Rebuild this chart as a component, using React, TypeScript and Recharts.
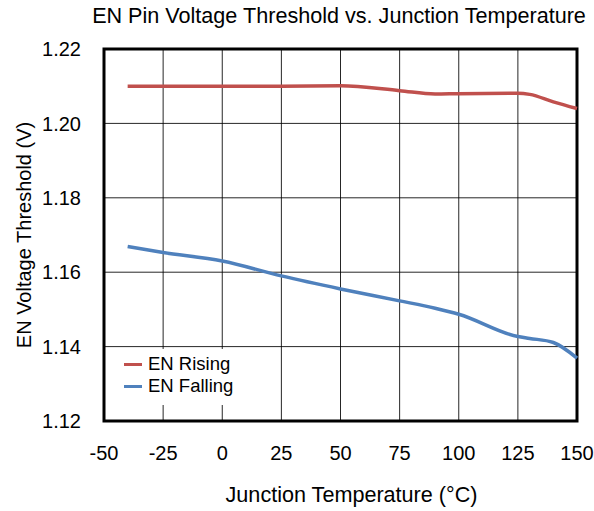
import { CartesianGrid, Label, Legend, Line, LineChart, ReferenceArea, XAxis, YAxis } from "recharts"

const temps = [-40, -25, 0, 25, 50, 75, 90, 100, 125, 130, 140, 150]
const enRising = [1.21, 1.21, 1.21, 1.21, 1.2101, 1.2088, 1.2079, 1.208, 1.2081, 1.2078, 1.2058, 1.204]
const enFalling = [1.1669, 1.1653, 1.163, 1.159, 1.1555, 1.1523, 1.1503, 1.1487, 1.1427, 1.1422, 1.1411, 1.1369]
const xTicks = [-50, -25, 0, 25, 50, 75, 100, 125, 150]
const yTicks = [1.12, 1.14, 1.16, 1.18, 1.2, 1.22]

const RED = "#C0504D"
const BLUE = "#4F81BD"
const FONT = "'Liberation Sans', Arial, sans-serif"

const data = temps.map((t, i) => ({ t, rising: enRising[i], falling: enFalling[i] }))

const legendItems = [
  { name: "EN Rising", color: RED },
  { name: "EN Falling", color: BLUE },
]

function LegendBox() {
  return (
    <div style={{ background: "#fff", padding: "4px 0 0 18px", height: 56, boxSizing: "border-box", fontFamily: FONT, fontSize: 18.5, color: "#000", textAlign: "left" }}>
      {legendItems.map((item) => (
        <div key={item.name} style={{ display: "flex", alignItems: "center", height: 22 }}>
          <span style={{ display: "inline-block", width: 18, height: 3, background: item.color, marginRight: 6 }} />
          {item.name}
        </div>
      ))}
    </div>
  )
}

export default function App() {
  return (
    <div style={{ position: "absolute", left: 0, top: 0, width: 594, height: 511, background: "#fff" }}>
      <div
        style={{
          position: "absolute",
          left: 89,
          top: 3,
          width: 500,
          textAlign: "center",
          fontFamily: FONT,
          fontSize: 21.6,
          color: "#000",
        }}
      >
        EN Pin Voltage Threshold vs. Junction Temperature
      </div>
      <LineChart width={594} height={511} data={data} margin={{ top: 49, right: 17, left: 14, bottom: 30 }}>
        <CartesianGrid stroke="#000" strokeOpacity={0.85} strokeWidth={1} />
        <XAxis
          dataKey="t"
          type="number"
          domain={[-50, 150]}
          ticks={xTicks}
          height={60}
          axisLine={false}
          tickLine={false}
          tickSize={0}
          tickMargin={25}
          tick={{ fill: "#000", fontSize: 20, fontFamily: FONT }}
        >
          <Label
            value="Junction Temperature (°C)"
            position="bottom"
            offset={6}
            dx={11}
            style={{ fill: "#000", fontSize: 21.6, fontFamily: FONT }}
          />
        </XAxis>
        <YAxis
          type="number"
          domain={[1.12, 1.22]}
          ticks={yTicks}
          width={90}
          axisLine={false}
          tickLine={false}
          tickSize={0}
          tickMargin={23}
          tickFormatter={(v: number) => v.toFixed(2)}
          tick={{ fill: "#000", fontSize: 20, fontFamily: FONT }}
        >
          <Label
            value="EN Voltage Threshold (V)"
            position="insideLeft"
            angle={-90}
            offset={10}
            style={{ fill: "#000", fontSize: 20, fontFamily: FONT, textAnchor: "middle" }}
          />
        </YAxis>
        <Legend
          content={<LegendBox />}
          layout="horizontal"
          verticalAlign="middle"
          align="center"
          wrapperStyle={{ left: 106, top: 349, width: 150, height: 56 }}
        />
        <Line
          type="monotone"
          dataKey="rising"
          name="EN Rising"
          stroke={RED}
          strokeWidth={3.5}
          dot={false}
          isAnimationActive={false}
        />
        <Line
          type="monotone"
          dataKey="falling"
          name="EN Falling"
          stroke={BLUE}
          strokeWidth={3.5}
          dot={false}
          isAnimationActive={false}
        />
        <ReferenceArea x1={-50} x2={150} y1={1.12} y2={1.22} fill="none" stroke="#000" strokeWidth={3} ifOverflow="visible" />
      </LineChart>
    </div>
  )
}
